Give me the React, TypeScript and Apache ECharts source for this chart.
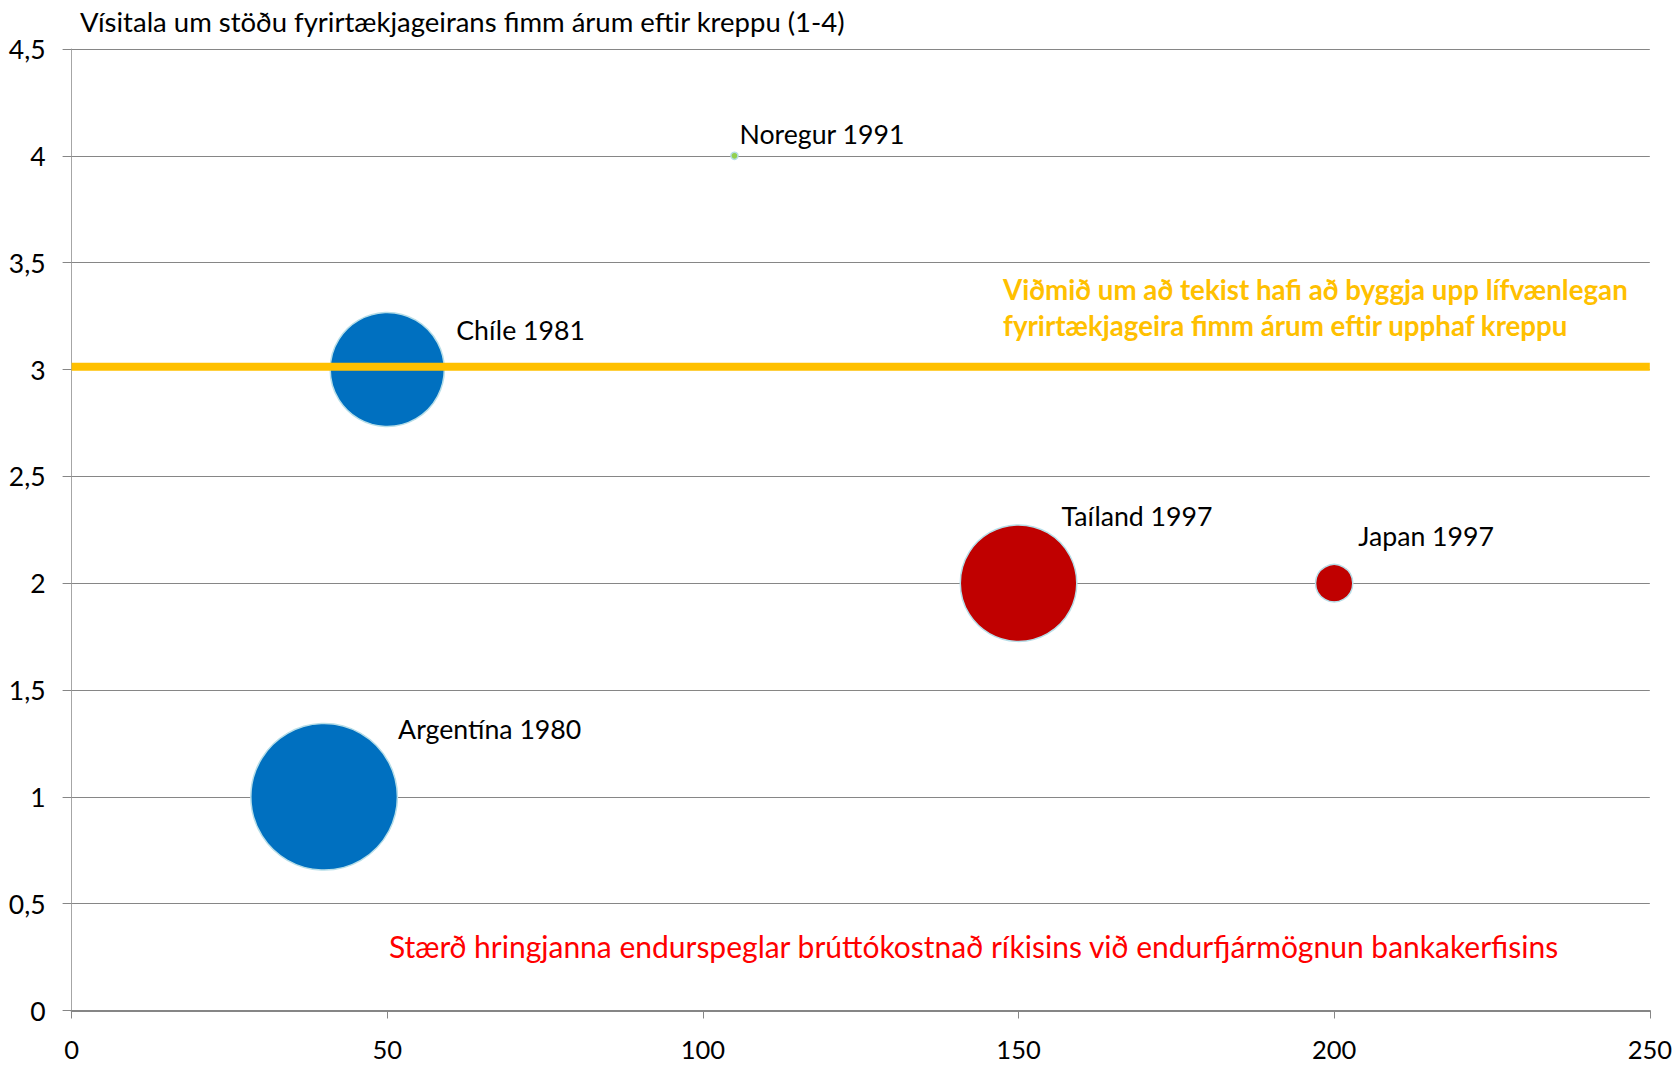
import React, { useEffect, useRef } from 'react';
import * as echarts from 'echarts';

// ---- data ----
const countries = ['Argentína 1980', 'Chíle 1981', 'Noregur 1991', 'Taíland 1997', 'Japan 1997'];
const xValues = [40, 50, 105, 150, 200];
const yValues = [1, 3, 4, 2, 2];
const fiscalCost = [55.1, 42.9, 2.7, 43.8, 14.0];
const benchmarkLevel = 3.013;
const xTickValues = [0, 50, 100, 150, 200, 250];
const yTickValues = [0, 0.5, 1, 1.5, 2, 2.5, 3, 3.5, 4, 4.5];

const titleText = 'Vísitala um stöðu fyrirtækjageirans fimm árum eftir kreppu (1-4)';
const benchmarkText = [
  'Viðmið um að tekist hafi að byggja upp lífvænlegan',
  'fyrirtækjageira fimm árum eftir upphaf kreppu',
];
const noteText = 'Stærð hringjanna endurspeglar brúttókostnað ríkisins við endurfjármögnun bankakerfisins';

// ---- styles ----
const FONT = 'Lato, "Noto Sans", sans-serif';
const FS_AXIS = 26.5;
const FS_XAXIS = 25.5;
const FS_LABEL = 26.7;
const FS_TITLE = 27.5;
const FS_BENCH = 27.7;
const FS_NOTE = 30;
const bubbleColors = ['#0070C0', '#0070C0', '#92D050', '#C00000', '#C00000'];
const labelOffsets = [
  [74, -68],
  [69, -39.5],
  [5, -22],
  [43, -67],
  [24, -47],
];
const SIZE_PER_UNIT = 2.66;

function buildOption() {
  const bubbleData = countries.map((name, i) => ({
    name,
    value: [xValues[i], yValues[i], fiscalCost[i]],
    itemStyle: { color: bubbleColors[i] },
  }));

  return {
    animation: false,
    backgroundColor: '#ffffff',
    grid: { left: 71.6, right: 23.5, top: 49, bottom: 54.5, containLabel: false },
    xAxis: {
      type: 'value',
      min: xTickValues[0],
      max: xTickValues[xTickValues.length - 1],
      interval: 50,
      axisLine: { show: true, lineStyle: { color: '#868686', width: 2 } },
      axisTick: { show: true, length: 8, lineStyle: { color: '#868686', width: 1 } },
      axisLabel: {
        color: '#000',
        fontFamily: FONT,
        fontSize: FS_XAXIS,
        lineHeight: 22,
        margin: 27.5,
      },
      splitLine: { show: false },
    },
    yAxis: {
      type: 'value',
      min: yTickValues[0],
      max: yTickValues[yTickValues.length - 1],
      interval: 0.5,
      axisLine: { show: true, lineStyle: { color: '#A6A6A6', width: 1 } },
      axisTick: { show: true, length: 9, lineStyle: { color: '#868686', width: 1 } },
      axisLabel: {
        color: '#000',
        fontFamily: FONT,
        fontSize: FS_AXIS,
        margin: 26,
        formatter: (v: number) => String(v).replace('.', ','),
      },
      splitLine: { show: true, lineStyle: { color: '#868686', width: 1 } },
    },
    series: [
      {
        type: 'scatter',
        silent: true,
        z: 2,
        symbol: 'circle',
        symbolSize: (val: number[]) => val[2] * SIZE_PER_UNIT,
        itemStyle: { borderColor: '#B7DEE8', borderWidth: 1.5, opacity: 1 },
        label: {
          show: true,
          position: 'inside',
          align: 'left',
          verticalAlign: 'middle',
          color: '#000',
          textBorderWidth: 0,
          fontFamily: FONT,
          fontSize: FS_LABEL,
          formatter: (p: any) => p.name,
        },
        labelLayout: (params: any) => ({
          dx: labelOffsets[params.dataIndex][0],
          dy: labelOffsets[params.dataIndex][1],
          hideOverlap: false,
        }),
        data: bubbleData,
      },
      {
        type: 'line',
        silent: true,
        z: 5,
        symbol: 'none',
        lineStyle: { color: '#FFC000', width: 8 },
        data: [
          [xTickValues[0], benchmarkLevel],
          [xTickValues[xTickValues.length - 1], benchmarkLevel],
        ],
      },
    ],
    graphic: [
      {
        type: 'text',
        x: 80,
        y: 21,
        style: {
          text: titleText,
          fill: '#000',
          font: `${FS_TITLE}px ${FONT}`,
          verticalAlign: 'middle',
          align: 'left',
        },
      },
      {
        type: 'text',
        x: 1003,
        y: 289.5,
        style: {
          text: benchmarkText[0],
          fill: '#FFC000',
          font: `bold ${FS_BENCH}px ${FONT}`,
          verticalAlign: 'middle',
          align: 'left',
        },
      },
      {
        type: 'text',
        x: 1003,
        y: 325,
        style: {
          text: benchmarkText[1],
          fill: '#FFC000',
          font: `bold ${FS_BENCH}px ${FONT}`,
          verticalAlign: 'middle',
          align: 'left',
        },
      },
      {
        type: 'text',
        x: 389,
        y: 946,
        style: {
          text: noteText,
          fill: '#FF0000',
          font: `${FS_NOTE}px ${FONT}`,
          verticalAlign: 'middle',
          align: 'left',
        },
      },
    ],
  };
}

export default function App() {
  const ref = useRef<HTMLDivElement>(null);
  useEffect(() => {
    if (!ref.current) return;
    const chart = echarts.init(ref.current, null, { renderer: 'svg' });
    chart.setOption(buildOption() as any);
    return () => chart.dispose();
  }, []);
  return (
    <div
      ref={ref}
      style={{ position: 'fixed', left: 0, top: 0, width: 1675, height: 1065, background: '#fff' }}
    />
  );
}
